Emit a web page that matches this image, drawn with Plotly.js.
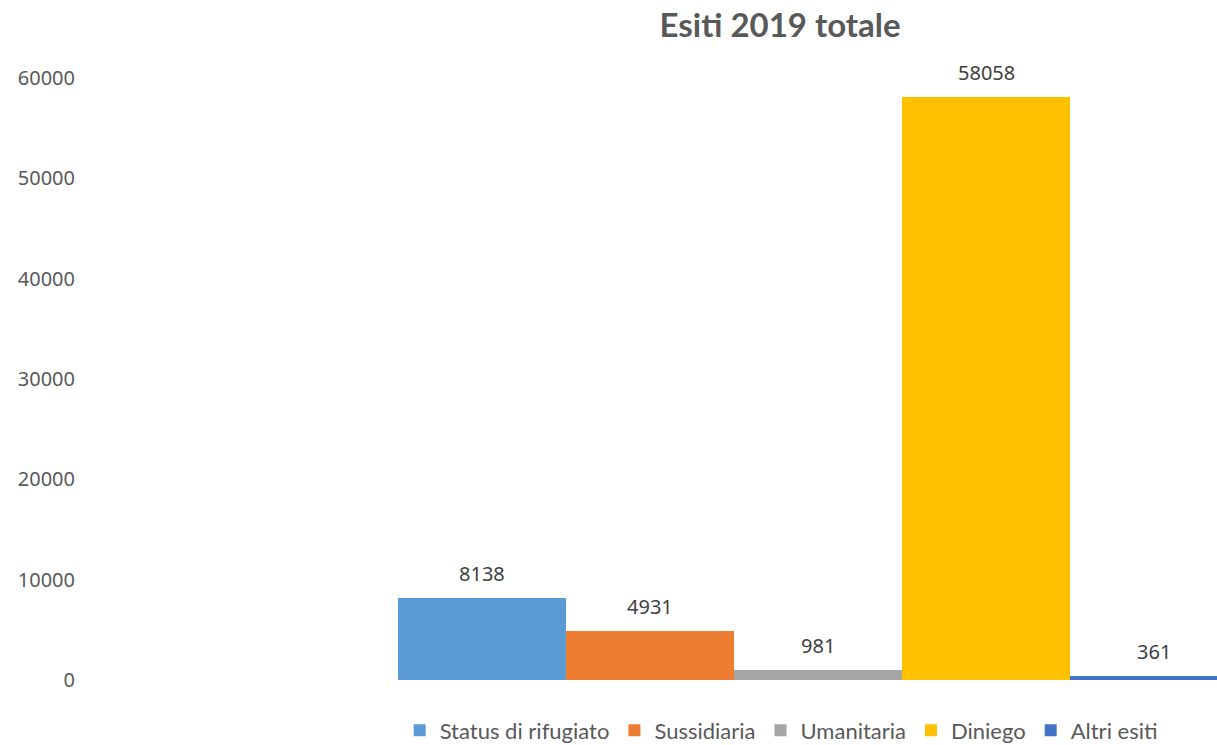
<!DOCTYPE html>
<html>
<head>
<meta charset="utf-8">
<script src="https://cdn.plot.ly/plotly-3.0.1.min.js"></script>
<style>html,body{margin:0;padding:0;background:#fff;}#chart{width:1217px;height:745px;}</style>
</head>
<body>
<div id="chart"></div>
<script>
const category = [''];
const seriesNames = ['Status di rifugiato', 'Sussidiaria', 'Umanitaria', 'Diniego', 'Altri esiti'];
const seriesValues = [8138, 4931, 981, 58058, 361];
const seriesColors = ['#5B9BD5', '#ED7D31', '#A5A5A5', '#FFC000', '#4472C4'];
const yTicks = [0, 10000, 20000, 30000, 40000, 50000, 60000];

const traces = seriesNames.map((name, i) => ({
  type: 'bar',
  name: name,
  x: category,
  y: [seriesValues[i]],
  marker: {color: seriesColors[i]},
  hoverinfo: 'none'
}));

const annotations = seriesValues.map((v, i) => ({
  x: -0.4 + 0.2 * i,
  y: v,
  xref: 'x', yref: 'y',
  text: String(v),
  showarrow: false,
  yanchor: 'bottom',
  yshift: 9,
  font: {family: 'Noto Sans, Open Sans, sans-serif', size: 20, color: '#404040'}
}));

const layout = {
  width: 1217, height: 745,
  margin: {l: 85, r: 0, t: 78, b: 65, autoexpand: false},
  paper_bgcolor: '#fff', plot_bgcolor: '#fff',
  barmode: 'group', bargap: 0, bargroupgap: 0,
  title: {
    text: '<b>Esiti 2019 totale</b>',
    x: 0.641, xref: 'container', xanchor: 'center',
    y: 0.966, yref: 'container', yanchor: 'middle',
    font: {family: 'Lato, Carlito, sans-serif', size: 33, color: '#595959'}
  },
  xaxis: {
    range: [-0.8726, 0.475],
    showticklabels: false, showgrid: false, zeroline: false, showline: false, ticks: ''
  },
  yaxis: {
    range: [0, 60000],
    tickvals: yTicks,
    ticktext: yTicks.map(String),
    showgrid: false, zeroline: false, showline: false, ticks: '',
    ticklabelstandoff: 9,
    tickfont: {family: 'Noto Sans, Open Sans, sans-serif', size: 20, color: '#595959'}
  },
  showlegend: true,
  legend: {
    orientation: 'h',
    x: 0.615, xanchor: 'center',
    y: -0.084, yanchor: 'middle',
    font: {family: 'Lato, Carlito, sans-serif', size: 22, color: '#595959'},
    traceorder: 'normal'
  },
  annotations: annotations
};

Plotly.newPlot('chart', traces, layout, {displayModeBar: false, staticPlot: true});
</script>
</body>
</html>
